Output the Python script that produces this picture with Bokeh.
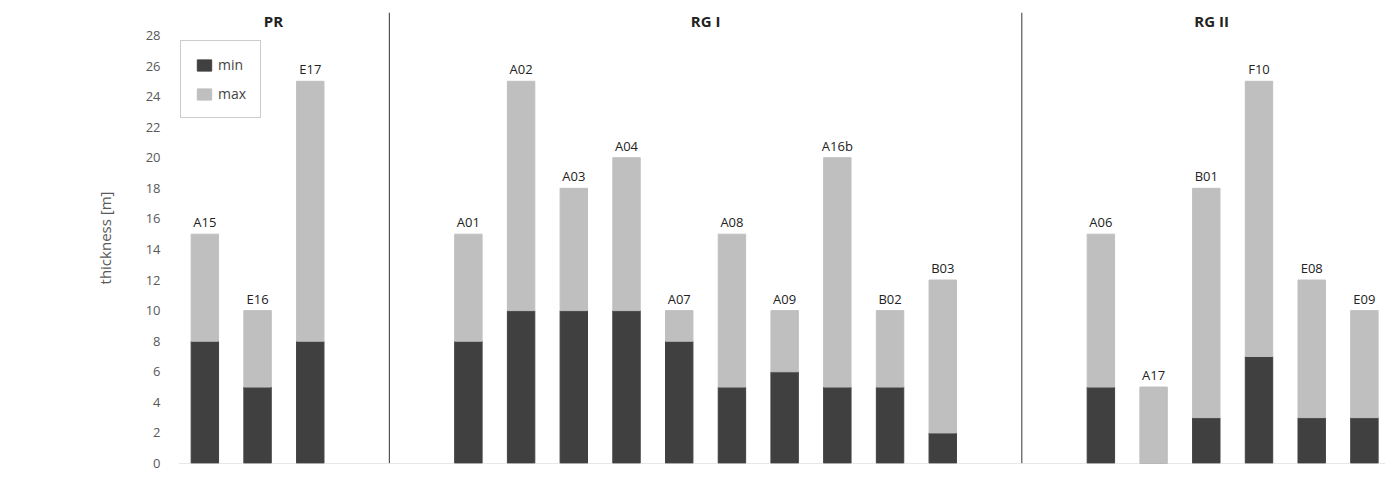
from bokeh.plotting import figure
from bokeh.models import ColumnDataSource, Span, Label, Legend, LegendItem, FixedTicker
from bokeh.core.properties import value
from bokeh.embed import file_html
from bokeh.resources import INLINE

names = ["A15", "E16", "E17",
         "A01", "A02", "A03", "A04", "A07", "A08", "A09", "A16b", "B02", "B03",
         "A06", "A17", "B01", "F10", "E08", "E09"]
slots = [0, 1, 2,
         5, 6, 7, 8, 9, 10, 11, 12, 13, 14,
         17, 18, 19, 20, 21, 22]
min_vals = [8, 5, 8,
            8, 10, 10, 10, 8, 5, 6, 5, 5, 2,
            5, 0, 3, 7, 3, 3]
max_vals = [15, 10, 25,
            15, 25, 18, 20, 10, 15, 10, 20, 10, 12,
            15, 5, 18, 25, 12, 10]
groups = ["PR", "RG I", "RG II"]
group_pos = [1.3, 9.5, 19.1]
dividers = [3.5, 15.5]

FONT = "Open Sans"
src = ColumnDataSource(dict(x=slots, mn=min_vals, mx=max_vals, name=names))

p = figure(width=1385, height=472, x_range=(-0.5, 22.4), y_range=(0, 29.5),
           output_backend="svg", toolbar_location=None,
           min_border_left=178, min_border_right=0, min_border_top=12, min_border_bottom=9)
p.outline_line_color = None
p.grid.visible = False
p.xaxis.visible = False

dark = p.vbar(x="x", bottom=0, top="mn", width=0.52, color="#404040", source=src)
light = p.vbar(x="x", bottom="mn", top="mx", width=0.52, color="#bfbfbf", source=src)

p.text(x="x", y="mx", text="name", source=src, text_align="center", text_baseline="bottom",
       y_offset=-3, text_font=value(FONT), text_font_size="13px", text_color="#222222")

for g, gx in zip(groups, group_pos):
    p.add_layout(Label(x=gx, y=29.5, text=g, text_align="center", text_baseline="middle",
                       y_offset=-8, text_font=FONT,
                       text_font_size="15px", text_font_style="bold", text_color="#222222"))
for d in dividers:
    p.add_layout(Span(location=d, dimension="height", line_color="#333333", line_width=1))
p.add_layout(Span(location=0, dimension="width", line_color="#d0d0d0", line_width=1))

ax = p.yaxis[0]
ax.ticker = FixedTicker(ticks=list(range(0, 29, 2)))
ax.axis_line_color = None
ax.major_tick_line_color = None
ax.minor_tick_line_color = None
ax.major_label_text_font = FONT
ax.major_label_text_font_size = "13px"
ax.major_label_text_color = "#595959"
ax.major_label_standoff = 12
ax.axis_label = "thickness [m]"
ax.axis_label_text_font = FONT
ax.axis_label_text_font_style = "normal"
ax.axis_label_text_font_size = "15px"
ax.axis_label_text_color = "#595959"
ax.axis_label_standoff = 28

legend = Legend(items=[LegendItem(label="min", renderers=[dark]),
                       LegendItem(label="max", renderers=[light])],
                location=(2, 345), border_line_color="#999999",
                label_text_font=FONT, label_text_font_size="14px",
                glyph_width=18, glyph_height=14,
                padding=14, spacing=10, margin=0)
p.add_layout(legend)

p.add_layout(Label(x=-164, y=-7, x_units="screen", y_units="screen", text="225",
                   text_font="Liberation Serif", text_font_size="15px", text_color="#222222"))

open("out.html", "w").write(file_html(p, INLINE))
